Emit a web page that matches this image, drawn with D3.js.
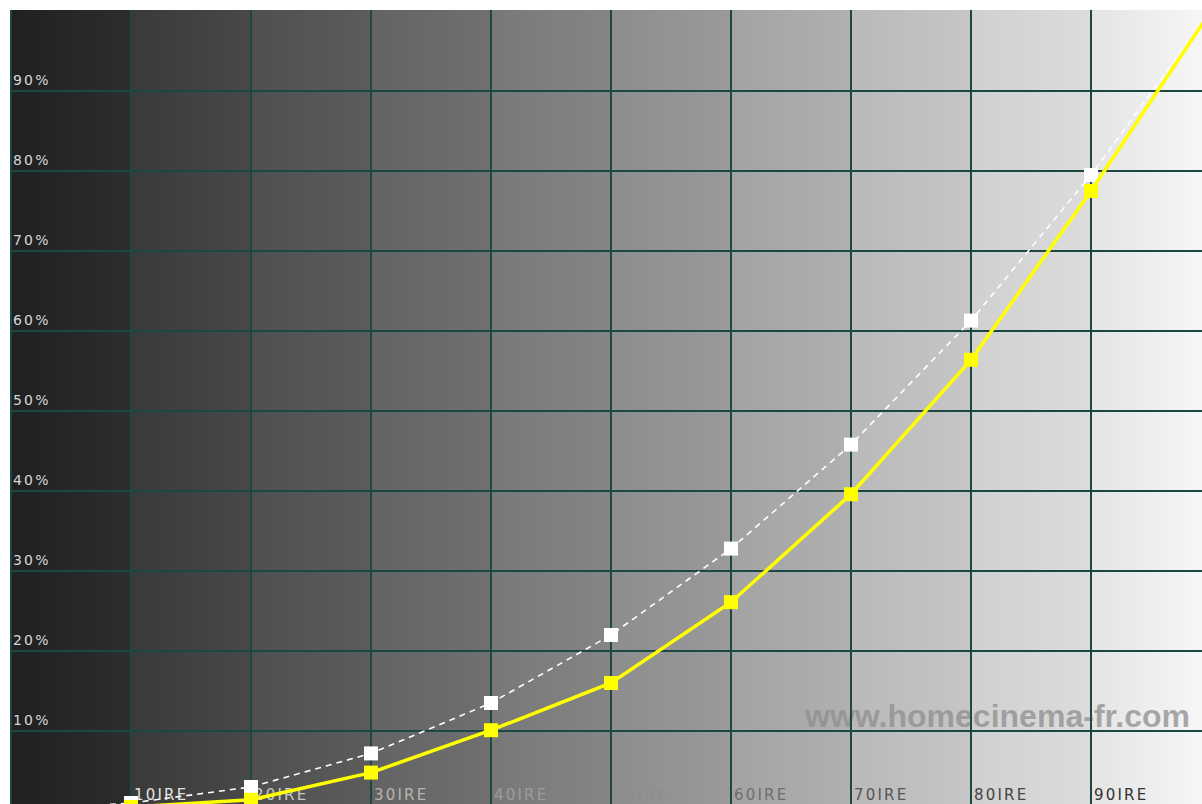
<!DOCTYPE html>
<html><head><meta charset="utf-8">
<script src="https://cdn.jsdelivr.net/npm/d3@7"></script>
<style>html,body{margin:0;padding:0;background:#fff;overflow:hidden}svg{display:block}</style>
</head><body>
<svg id="c" width="1202" height="804"></svg>
<script>
// ---- data ----
const ireLevels = [0, 10, 20, 30, 40, 50, 60, 70, 80, 90, 100];
const referenceGamma = [0, 1.0, 3.0, 7.2, 13.5, 22.0, 32.8, 45.8, 61.3, 79.5, 100];
const measured = [0, 0.5, 1.4, 4.8, 10.1, 16.0, 26.1, 39.6, 56.4, 77.5, 100];
const yTicks = [10, 20, 30, 40, 50, 60, 70, 80, 90];
const yTickLabels = ["10%", "20%", "30%", "40%", "50%", "60%", "70%", "80%", "90%"];
const xTicks = [10, 20, 30, 40, 50, 60, 70, 80, 90];
const xTickLabels = ["10IRE", "20IRE", "30IRE", "40IRE", "50IRE", "60IRE", "70IRE", "80IRE", "90IRE"];
const bandStarts = [0, 10, 20, 30, 40, 50, 60, 70, 80, 90];
const bandLeft = ["#202020", "#3a3a3a", "#4f4f4f", "#636363", "#787878", "#8d8d8d", "#a3a3a3", "#b9b9b9", "#d0d0d0", "#e4e4e4"];
const bandRight = ["#2d2d2d", "#484848", "#5c5c5c", "#707070", "#858585", "#9a9a9a", "#b0b0b0", "#c6c6c6", "#dcdcdc", "#f8f8f8"];
const xLabelColors = ["#e2e2e2", "#c8c8c8", "#b4b4b4", "#9c9c9c", "#8e8e8e", "#6e6e6e", "#555555", "#444444", "#333333"];
const watermark = "www.homecinema-fr.com";

const svg = d3.select("#c");
const W = 1202, H = 804;
const plotLeft = 10, plotTop = 10;
const x = d3.scaleLinear().domain([0, 100]).range([11, 1211]);
const y = d3.scaleLinear().domain([0, 100]).range([811, 11]);

const defs = svg.append("defs");
defs.append("clipPath").attr("id", "plot").append("rect")
  .attr("x", plotLeft).attr("y", plotTop).attr("width", W - plotLeft).attr("height", H - plotTop);

const g = svg.append("g").attr("clip-path", "url(#plot)");

// background bands with gradients
bandStarts.forEach((b, i) => {
  const gr = defs.append("linearGradient").attr("id", "bg" + i)
    .attr("x1", "0").attr("x2", "1").attr("y1", "0").attr("y2", "0");
  gr.append("stop").attr("offset", "0").attr("stop-color", bandLeft[i]);
  gr.append("stop").attr("offset", "1").attr("stop-color", bandRight[i]);
});
g.selectAll("rect.band").data(bandStarts).join("rect")
  .attr("class", "band")
  .attr("x", (d, i) => i === 0 ? plotLeft : x(d))
  .attr("width", (d, i) => x(d + 10) - (i === 0 ? plotLeft : x(d)))
  .attr("y", plotTop).attr("height", H - plotTop)
  .attr("fill", (d, i) => `url(#bg${i})`);

// watermark
g.append("text")
  .attr("x", 805).attr("y", 727)
  .attr("font-family", "'Liberation Sans', Arial, sans-serif")
  .attr("font-weight", "bold")
  .attr("font-size", 31)
  .attr("textLength", 385).attr("lengthAdjust", "spacingAndGlyphs")
  .attr("fill", "#8e8e8e").attr("fill-opacity", 0.75)
  .text(watermark);

// grid
const gridColor = "#1b4842";
g.selectAll("line.vg").data([0].concat(xTicks)).join("line")
  .attr("class", "vg")
  .attr("x1", d => x(d)).attr("x2", d => x(d))
  .attr("y1", plotTop).attr("y2", H)
  .attr("stroke", gridColor).attr("stroke-width", 2);
g.selectAll("line.hg").data(yTicks).join("line")
  .attr("class", "hg")
  .attr("x1", plotLeft).attr("x2", W)
  .attr("y1", d => y(d)).attr("y2", d => y(d))
  .attr("stroke", gridColor).attr("stroke-width", 2);

// y labels
g.selectAll("text.yl").data(yTicks).join("text")
  .attr("class", "yl")
  .attr("x", 13).attr("y", d => y(d) - 6)
  .attr("font-family", "'DejaVu Sans', Verdana, sans-serif")
  .attr("font-size", 14).attr("letter-spacing", "2.2")
  .attr("fill", "#d6d6d6")
  .text((d, i) => yTickLabels[i]);

// x labels
g.selectAll("text.xl").data(xTicks).join("text")
  .attr("class", "xl")
  .attr("x", d => x(d) + 3).attr("y", 800)
  .attr("font-family", "'DejaVu Sans', Verdana, sans-serif")
  .attr("font-size", 15).attr("letter-spacing", "2.2")
  .attr("fill", (d, i) => xLabelColors[i])
  .text((d, i) => xTickLabels[i]);

const line = d3.line().x(d => x(d[0])).y(d => y(d[1]));

// reference (dashed white)
const refPts = ireLevels.map((l, i) => [l, referenceGamma[i]]);
g.append("path").datum(refPts)
  .attr("d", line).attr("fill", "none")
  .attr("stroke", "#ffffff").attr("stroke-width", 1.6)
  .attr("stroke-dasharray", "6,5");
g.selectAll("rect.rp").data(refPts).join("rect")
  .attr("class", "rp")
  .attr("x", d => x(d[0]) - 7).attr("y", d => y(d[1]) - 7)
  .attr("width", 14).attr("height", 14)
  .attr("fill", "#ffffff");

// measured (yellow)
const mPts = ireLevels.map((l, i) => [l, measured[i]]);
g.append("path").datum(mPts)
  .attr("d", line).attr("fill", "none")
  .attr("stroke", "#ffff00").attr("stroke-width", 3.5);
g.selectAll("rect.mp").data(mPts).join("rect")
  .attr("class", "mp")
  .attr("x", d => x(d[0]) - 7).attr("y", d => y(d[1]) - 7)
  .attr("width", 14).attr("height", 14)
  .attr("fill", "#ffff00");
</script>
</body></html>
